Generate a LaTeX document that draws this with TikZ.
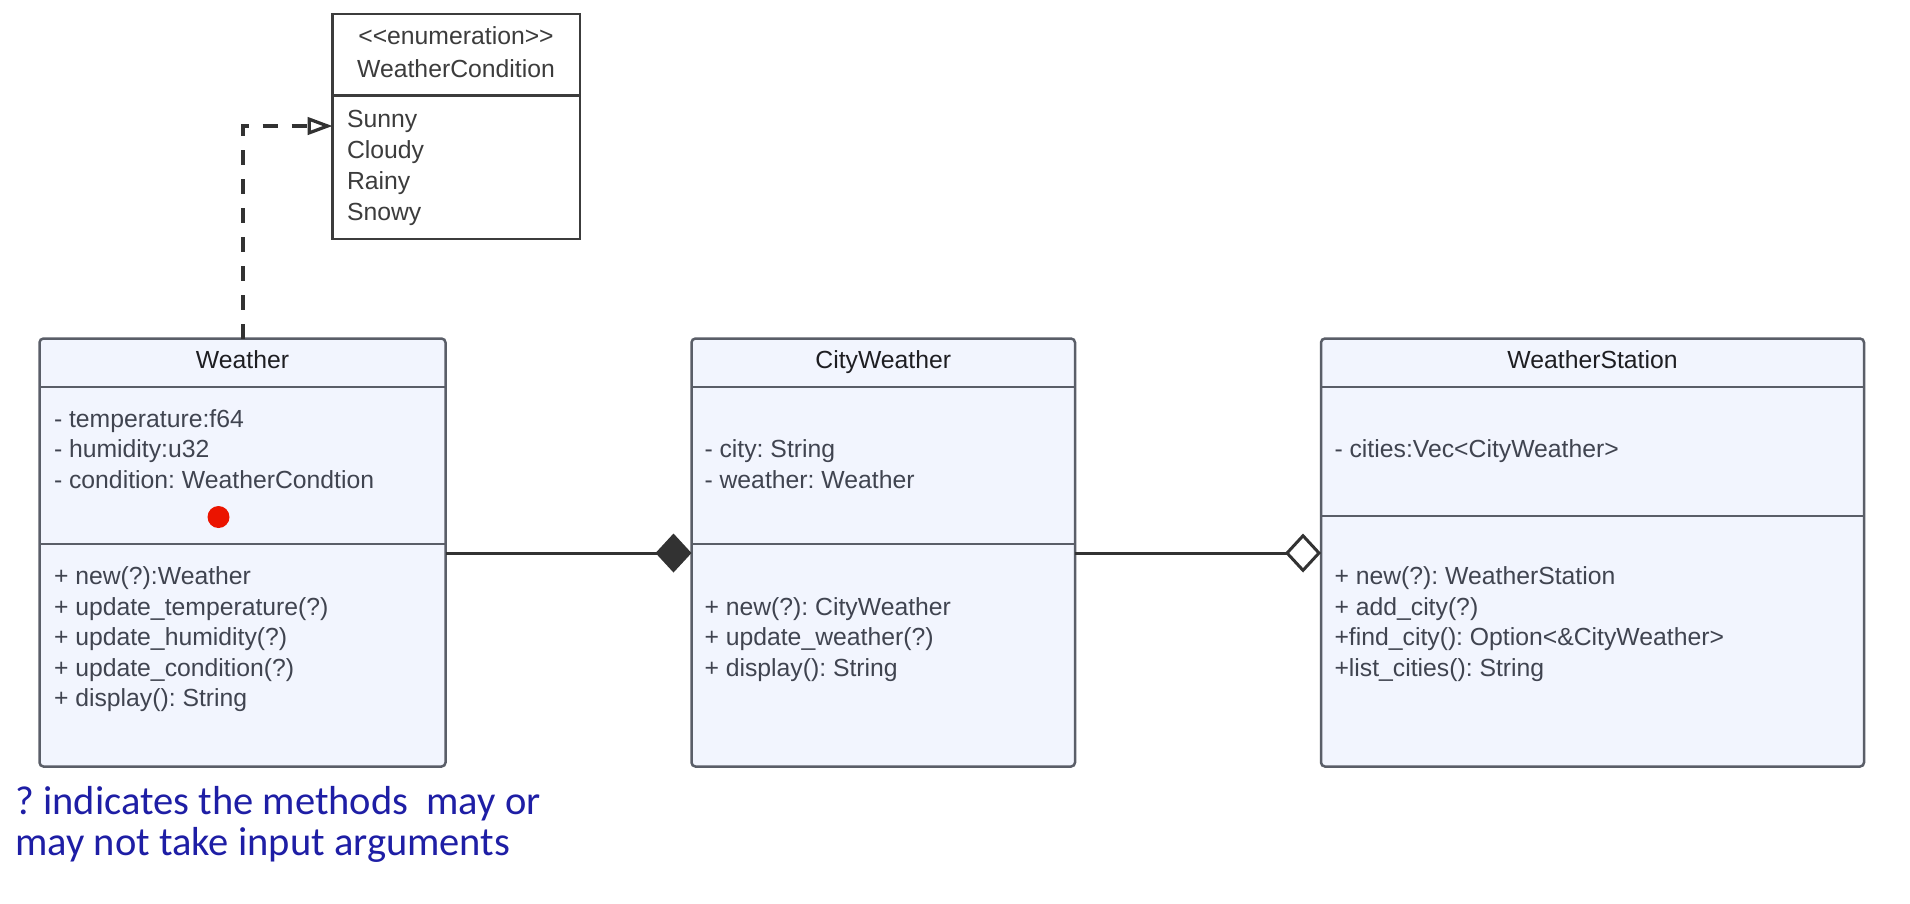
\documentclass[tikz,border=0pt]{standalone}
\usepackage{fontspec}
\newfontfamily\classfont{Liberation Sans}
\newfontfamily\notefont{Carlito}
\newcommand*{\memberfont}{\classfont\fontsize{9.9}{12}\selectfont\frenchspacing}
\newcommand*{\argsfont}{\notefont\fontsize{16.2}{16.4}\selectfont\frenchspacing}
\usepackage{tikz}
\definecolor{boxfill}{RGB}{242,245,254}
\definecolor{boxline}{RGB}{90,94,104}
\definecolor{membertext}{RGB}{64,68,80}
\definecolor{titletext}{RGB}{30,30,34}
\definecolor{enumline}{RGB}{60,60,60}
\definecolor{linkgrey}{RGB}{50,50,50}
\definecolor{notetext}{RGB}{30,30,165}
\definecolor{dotred}{RGB}{235,20,0}
\usetikzlibrary{arrows.meta}
\usetikzlibrary{fit}
\tikzstyle{classbox}=[draw=boxline, fill=boxfill, line width=1pt, rounded corners=1.6pt, inner sep=0pt, outer sep=0pt]
\tikzstyle{enumbox}=[draw=enumline, fill=white, line width=1pt, inner sep=0pt, outer sep=0pt]
\tikzstyle{divider}=[boxline, line width=1pt]
\tikzstyle{title}=[anchor=base, inner sep=0pt, font=\memberfont, text=titletext]
\tikzstyle{member}=[anchor=base west, inner sep=0pt, font=\memberfont, text=membertext]
\tikzstyle{link}=[linkgrey, line width=1.2pt]
\tikzstyle{note}=[anchor=base west, align=left, inner sep=0pt, font=\argsfont, text=notetext]

\begin{document}
\begin{tikzpicture}[x=0.4pt, y=-0.4pt]
    \path [use as bounding box] (0,0) rectangle (1910,903);

    \node [enumbox, fit={(332.5,14) (580,239)}] (weathercondition) {};
    \draw [enumline, line width=1pt] (weathercondition.west |- 0,95.5) -- (weathercondition.east |- 0,95.5);
    \node [title, text=enumline] (enumstereo) at (456,44) {<<enumeration>>};
    \node [title, text=enumline] (enumname) at (456,77) {WeatherCondition};
    \foreach \txt [count=\i] in {Sunny, Cloudy, Rainy, Snowy}
        \node [member, text=enumline] (enumval\i) at (346.5,{127+31*(\i-1)}) {\txt};

    \node [classbox, fit={(39.5,338.5) (445.5,766.5)}] (weather) {};
    \draw [divider] (weather.west |- 0,387) -- (weather.east |- 0,387);
    \draw [divider] (weather.west |- 0,544) -- (weather.east |- 0,544);
    \node [title] (weathertitle) at (242.5,368) {Weather};
    \foreach \txt [count=\i] in {{- temperature:f64}, {- humidity:u32}, {- condition: WeatherCondtion}}
        \node [member] (weatherattr\i) at (53.5,{427+30.6*(\i-1)}) {\txt};
    \foreach \txt [count=\i] in {{+ new(?):Weather}, {+ update\_temperature(?)}, {+ update\_humidity(?)}, {+ update\_condition(?)}, {+ display(): String}}
        \node [member] (weatheroper\i) at (53.5,{584.5+30.6*(\i-1)}) {\txt};
    \node [circle, fill=dotred, inner sep=0pt, minimum size=8.8pt] (cursor) at (218.5,517) {};

    \node [classbox, fit={(691.5,338.5) (1075,766.5)}] (cityweather) {};
    \draw [divider] (cityweather.west |- 0,387) -- (cityweather.east |- 0,387);
    \draw [divider] (cityweather.west |- 0,544) -- (cityweather.east |- 0,544);
    \node [title] (citytitle) at (883.25,368) {CityWeather};
    \foreach \txt [count=\i] in {{- city: String}, {- weather: Weather}}
        \node [member] (cityattr\i) at (704,{457.5+30.6*(\i-1)}) {\txt};
    \foreach \txt [count=\i] in {{+ new(?): CityWeather}, {+ update\_weather(?)}, {+ display(): String}}
        \node [member] (cityoper\i) at (704,{615+30.6*(\i-1)}) {\txt};

    \node [classbox, fit={(1321,338.5) (1864,766.5)}] (weatherstation) {};
    \draw [divider] (weatherstation.west |- 0,387) -- (weatherstation.east |- 0,387);
    \draw [divider] (weatherstation.west |- 0,516) -- (weatherstation.east |- 0,516);
    \node [title] (stationtitle) at (1592.5,368) {WeatherStation};
    \node [member] (stationattr1) at (1334,457.5) {- cities:Vec<CityWeather>};
    \foreach \txt [count=\i] in {{+ new(?): WeatherStation}, {+ add\_city(?)}, {+find\_city(): Option<\&CityWeather>}, {+list\_cities(): String}}
        \node [member] (stationoper\i) at (1334,{584.5+30.6*(\i-1)}) {\txt};

    \draw [link, -{Diamond[length=14.4pt, width=15.6pt]}] (weather.east |- 0,553) -- (cityweather.west |- 0,553);
    \draw [link, -{Diamond[open, fill=white, length=14.4pt, width=15.6pt]}] (cityweather.east |- 0,553) -- (weatherstation.west |- 0,553);
    \draw [link, line width=1.3pt, dash pattern=on 6pt off 5.6pt, -{Triangle[open, fill=white, length=10pt, width=7pt]}] (weather.north -| 243,0) |- (weathercondition.west |- 0,126);

    \node [note] (argsnote) at (15,855) {? indicates the methods\ \ may or\\may not take input arguments};
\end{tikzpicture}
\end{document}
